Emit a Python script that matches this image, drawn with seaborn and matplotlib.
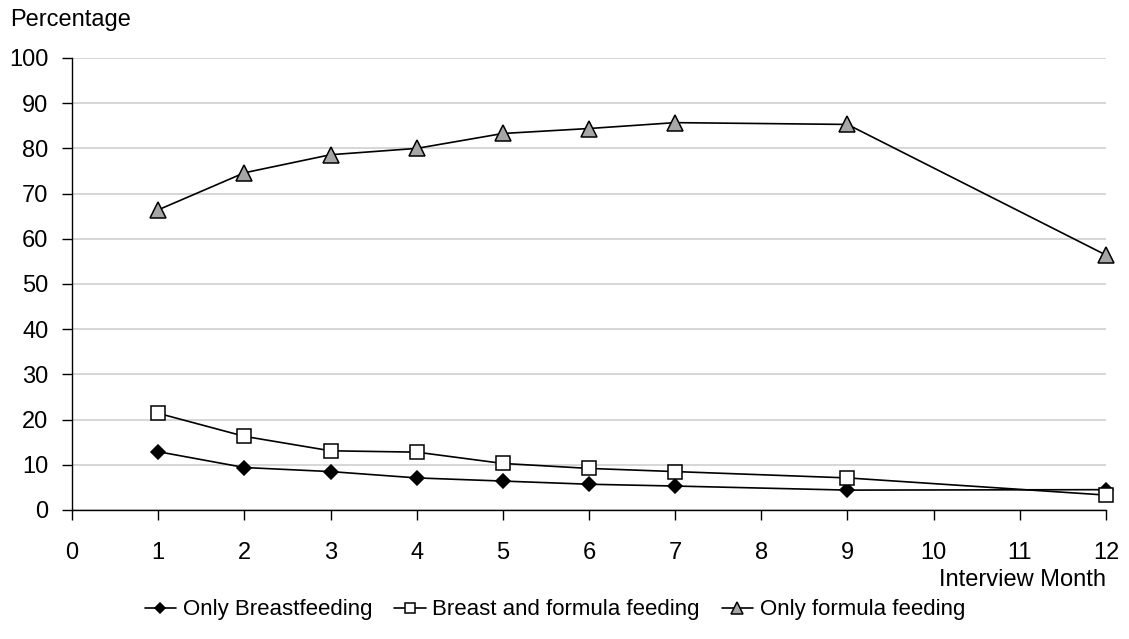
import matplotlib
matplotlib.use("Agg")
import matplotlib.pyplot as plt
import seaborn as sns
import pandas as pd

months = [1, 2, 3, 4, 5, 6, 7, 9, 12]
only_breast = [12.9, 9.4, 8.5, 7.1, 6.4, 5.7, 5.3, 4.4, 4.5]
breast_formula = [21.4, 16.3, 13.1, 12.8, 10.3, 9.2, 8.5, 7.1, 3.3]
only_formula = [66.4, 74.6, 78.6, 80.0, 83.3, 84.4, 85.7, 85.3, 56.4]
series_names = ["Only Breastfeeding", "Breast and formula feeding", "Only formula feeding"]
x_ticks = list(range(0, 13))
y_ticks = list(range(0, 101, 10))

sns.set_style("white")
plt.rcParams['font.family'] = ['Liberation Sans', 'DejaVu Sans']
plt.rcParams['text.color'] = 'black'

fig = plt.figure(figsize=(11.29, 6.39), dpi=100)
ax = fig.add_axes([72/1129, 1-510/639, (1106-72)/1129, (510-58)/639])

styles = [
    dict(marker="D", markersize=7, markerfacecolor="black", markeredgecolor="black"),
    dict(marker="s", markersize=10, markerfacecolor="white", markeredgecolor="black"),
    dict(marker="^", markersize=12, markerfacecolor="#a6a6a6", markeredgecolor="black"),
]
data = [only_breast, breast_formula, only_formula]
for name, vals, st in zip(series_names, data, styles):
    df = pd.DataFrame({"Month": months, "Value": vals})
    sns.lineplot(data=df, x="Month", y="Value", ax=ax, color="black", linewidth=1.2,
                 label=name, markeredgewidth=1.1, clip_on=False, **st)

ax.set_xlim(0, 12)
ax.set_ylim(0, 100)
ax.set_xticks(x_ticks)
ax.set_yticks(y_ticks)
ax.yaxis.grid(True, color="#d0d0d0", linewidth=1.2)
ax.set_axisbelow(True)
for s in ["top", "right"]:
    ax.spines[s].set_visible(False)
for s in ["left", "bottom"]:
    ax.spines[s].set_color("black")
    ax.spines[s].set_linewidth(1.0)
ax.tick_params(axis="both", which="both", direction="out", length=7, width=1,
               color="black", labelsize=17, labelcolor="black",
               bottom=True, left=True)
ax.tick_params(axis="x", pad=16)
ax.tick_params(axis="y", pad=10)
ax.set_xlabel("")
ax.set_ylabel("")

fig.text(10/1129, 1-20/639, "Percentage", fontsize=17, ha="left", va="center", color="black")
fig.text(1106/1129, 1-580/639, "Interview Month", fontsize=17, ha="right", va="center", color="black")

leg = ax.legend(loc="center", ncol=3, frameon=False, fontsize=16, handlelength=1.4,
                handletextpad=0.3, columnspacing=1.0, markerscale=0.75)
for t in leg.get_texts():
    t.set_color("black")
leg.set_bbox_to_anchor((0.5 - 34/1034, -(610-510)/(510-58)), transform=ax.transAxes)

fig.savefig("out.png", dpi=100)
